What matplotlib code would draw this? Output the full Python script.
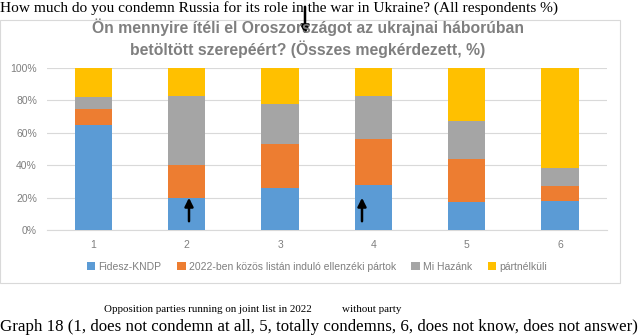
import numpy as np
import matplotlib.pyplot as plt
from matplotlib.patches import Rectangle

# answer scale 1..6 (6 = does not know / no answer)
categories = ['1', '2', '3', '4', '5', '6']
series_names = ['Fidesz-KNDP', '2022-ben közös listán induló ellenzéki pártok',
                'Mi Hazánk', 'pártnélküli']
fidesz = [65, 20, 26, 28, 17, 18]
ellenzek = [10, 20, 27, 28, 27, 9]
mihazank = [7, 43, 25, 27, 23, 11]
partnelkuli = [18, 17, 22, 17, 33, 62]
yticks = [0, 20, 40, 60, 80, 100]

colors = ['#5B9BD5', '#ED7D31', '#A5A5A5', '#FFC000']
W, H = 640, 336


def px(x, y):
    # pixel position -> figure fraction
    return x / W, 1 - y / H


fig = plt.figure(figsize=(6.4, 3.36), dpi=100)
fig.patch.set_facecolor('white')

# light frame around the embedded chart
fig.patches.append(Rectangle(px(0, 283), 620 / W, 263 / H, transform=fig.transFigure,
                             fill=False, edgecolor='#D9D9D9', linewidth=0.8))

ax = fig.add_axes([46.7 / W, (H - 230) / H, 560 / W, 162 / H])
x = np.arange(1, len(categories) + 1)
bottom = np.zeros(len(categories))
for vals, name, c in zip([fidesz, ellenzek, mihazank, partnelkuli], series_names, colors):
    ax.bar(x, vals, 0.4, bottom=bottom, color=c, label=name, zorder=3)
    bottom += np.array(vals)

ax.set_xlim(0.5, 6.5)
ax.set_ylim(0, 100)
ax.set_yticks(yticks)
ax.set_yticklabels([f'{t}%' for t in yticks])
ax.set_xticks(x)
ax.set_xticklabels(categories)
ax.tick_params(length=0, colors='#7F7F7F', labelsize=7.5, pad=7)
ax.grid(axis='y', color='#D9D9D9', linewidth=0.8, zorder=0)
for s in ['top', 'right', 'left']:
    ax.spines[s].set_visible(False)
ax.spines['bottom'].set_color('#D9D9D9')
for lab in ax.get_xticklabels() + ax.get_yticklabels():
    lab.set_family('Liberation Sans')

ax.legend(loc='center', bbox_to_anchor=(px(317, 267)), bbox_transform=fig.transFigure,
          ncol=4, frameon=False, handlelength=0.8, handleheight=0.8,
          handletextpad=0.3, columnspacing=1.5, labelcolor='#7F7F7F',
          prop={'family': 'Liberation Sans', 'size': 7.5})

fig.text(*px(308, 38), 'Ön mennyire ítéli el Oroszországot az ukrajnai háborúban\n'
         'betöltött szerepéért? (Összes megkérdezett, %)',
         ha='center', va='center', fontsize=11.3, fontweight='bold',
         color='#7F7F7F', family='Liberation Sans', linespacing=1.3)

fig.text(*px(0, 8), 'How much do you condemn Russia for its role in the war in Ukraine? (All respondents %)',
         ha='left', va='center', fontsize=11.1, family='Liberation Serif', color='black')
fig.text(*px(104, 310), 'Opposition parties running on joint list in 2022',
         ha='left', va='center', fontsize=7.9, family='Liberation Serif')
fig.text(*px(342, 310), 'without party',
         ha='left', va='center', fontsize=7.9, family='Liberation Serif')
fig.text(*px(0, 327), 'Graph 18 (1, does not condemn at all, 5, totally condemns, 6, does not know, does not answer)',
         ha='left', va='center', fontsize=12.2, family='Liberation Serif')

# hand-drawn arrows
arrow = dict(arrowstyle='-|>,head_width=0.25,head_length=0.5', color='black', lw=1.8)
fig.add_artist(plt.Annotation('', xy=px(305, 37), xytext=px(305, 4),
                              xycoords='figure fraction', arrowprops=arrow))
fig.add_artist(plt.Annotation('', xy=px(189, 195), xytext=px(189, 224),
                              xycoords='figure fraction', arrowprops=arrow))
fig.add_artist(plt.Annotation('', xy=px(362, 195), xytext=px(362, 224),
                              xycoords='figure fraction', arrowprops=arrow))

fig.savefig('out.png', dpi=100)
